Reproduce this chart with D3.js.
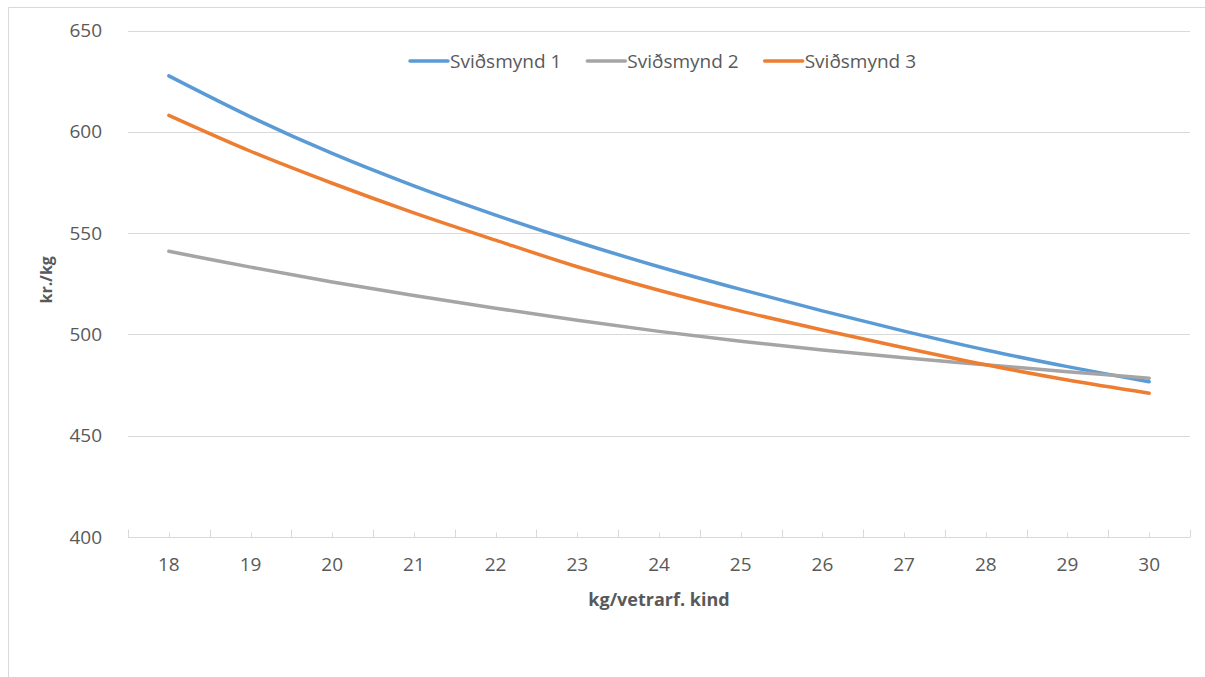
<!DOCTYPE html>
<html>
<head>
<meta charset="utf-8">
<script src="https://cdn.jsdelivr.net/npm/d3@7"></script>
<style>
  html, body { margin: 0; padding: 0; background: #fff; }
  svg { display: block; }
</style>
</head>
<body>
<svg id="chart" width="1205" height="677"></svg>
<script>
const categories = [18, 19, 20, 21, 22, 23, 24, 25, 26, 27, 28, 29, 30];
const seriesNames = ["Sviðsmynd 1", "Sviðsmynd 2", "Sviðsmynd 3"];
const scenario1 = [627.6, 607.4, 589.3, 573.3, 558.9, 545.6, 533.4, 522.2, 511.6, 501.6, 492.3, 484.1, 476.6];
const scenario2 = [541.0, 533.2, 525.9, 519.2, 512.9, 507.0, 501.5, 496.6, 492.3, 488.5, 485.0, 481.6, 478.4];
const scenario3 = [608.1, 590.4, 574.6, 560.0, 546.5, 533.4, 521.8, 511.5, 502.2, 493.4, 485.0, 477.5, 471.0];
const yTicks = [400, 450, 500, 550, 600, 650];
const colors = ["#5B9BD5", "#A5A5A5", "#ED7D31"];
const xTitle = "kg/vetrarf. kind";
const yTitle = "kr./kg";

const seriesValues = [scenario1, scenario2, scenario3];
const font = "'Open Sans', sans-serif";
const textColor = "#595959";
const gridColor = "#D9D9D9";

const svg = d3.select("#chart");
const plotLeft = 128, plotRight = 1190, plotTop = 30.5, plotBottom = 537;

// chart frame
svg.append("line").attr("x1", 8.5).attr("x2", 1205).attr("y1", 7.5).attr("y2", 7.5)
  .attr("stroke", gridColor).attr("stroke-width", 1);
svg.append("line").attr("x1", 8.5).attr("x2", 8.5).attr("y1", 7.5).attr("y2", 677)
  .attr("stroke", gridColor).attr("stroke-width", 1);

const x = d3.scaleBand().domain(categories).range([plotLeft, plotRight]).paddingInner(0).paddingOuter(0);
const xc = d => x(d) + x.bandwidth() / 2;
const y = d3.scaleLinear().domain([400, 650]).range([plotBottom, plotTop]);

// gridlines (excluding baseline)
svg.append("g").selectAll("line").data(yTicks.filter(t => t !== 400)).join("line")
  .attr("x1", plotLeft).attr("x2", plotRight)
  .attr("y1", d => Math.round(y(d)) + 0.5).attr("y2", d => Math.round(y(d)) + 0.5)
  .attr("stroke", gridColor).attr("stroke-width", 1);

// y tick labels
svg.append("g").selectAll("text").data(yTicks).join("text")
  .attr("x", 102).attr("y", d => y(d))
  .attr("dy", "0.35em")
  .attr("text-anchor", "end")
  .attr("font-family", font).attr("font-size", 19)
  .attr("fill", textColor)
  .text(d => d);

// x axis line and ticks
const axisY = Math.round(y(400)) + 0.5;
svg.append("line").attr("x1", plotLeft).attr("x2", plotRight).attr("y1", axisY).attr("y2", axisY)
  .attr("stroke", gridColor).attr("stroke-width", 1);
const boundaries = categories.map(c => x(c)).concat([plotRight]);
svg.append("g").selectAll("line").data(boundaries).join("line")
  .attr("x1", d => Math.round(d) + 0.5).attr("x2", d => Math.round(d) + 0.5)
  .attr("y1", axisY).attr("y2", axisY - 8)
  .attr("stroke", gridColor).attr("stroke-width", 1);
svg.append("g").selectAll("line").data(categories).join("line")
  .attr("x1", d => Math.round(xc(d)) + 0.5).attr("x2", d => Math.round(xc(d)) + 0.5)
  .attr("y1", axisY).attr("y2", axisY - 5)
  .attr("stroke", gridColor).attr("stroke-width", 1);

// x tick labels
svg.append("g").selectAll("text").data(categories).join("text")
  .attr("x", d => xc(d)).attr("y", 571)
  .attr("text-anchor", "middle")
  .attr("font-family", font).attr("font-size", 19)
  .attr("fill", textColor)
  .text(d => d);

// axis titles
svg.append("text")
  .attr("x", (plotLeft + plotRight) / 2).attr("y", 606)
  .attr("text-anchor", "middle")
  .attr("font-family", font).attr("font-size", 18).attr("font-weight", "bold")
  .attr("fill", textColor)
  .text(xTitle);
svg.append("text")
  .attr("transform", `translate(52, ${(plotTop + plotBottom) / 2 - 4}) rotate(-90)`)
  .attr("text-anchor", "middle")
  .attr("font-family", font).attr("font-size", 16).attr("font-weight", "bold")
  .attr("fill", textColor)
  .text(yTitle);

// lines
const line = d3.line()
  .x((d, i) => xc(categories[i]))
  .y(d => y(d))
  .curve(d3.curveCardinal.tension(0));
svg.append("g").selectAll("path").data(seriesValues).join("path")
  .attr("d", d => line(d))
  .attr("fill", "none")
  .attr("stroke", (d, i) => colors[i])
  .attr("stroke-width", 3.5)
  .attr("stroke-linecap", "round")
  .attr("stroke-linejoin", "round");

// legend
const legend = svg.append("g");
let lx = 410;
const ly = 61;
seriesNames.forEach((name, i) => {
  legend.append("line")
    .attr("x1", lx).attr("x2", lx + 38).attr("y1", ly).attr("y2", ly)
    .attr("stroke", colors[i]).attr("stroke-width", 3.5).attr("stroke-linecap", "round");
  const t = legend.append("text")
    .attr("x", lx + 40).attr("y", ly).attr("dy", "0.35em")
    .attr("font-family", font).attr("font-size", 19)
    .attr("fill", textColor)
    .text(name);
  const w = t.node().getComputedTextLength();
  lx = lx + 40 + w + 26;
});
</script>
</body>
</html>
